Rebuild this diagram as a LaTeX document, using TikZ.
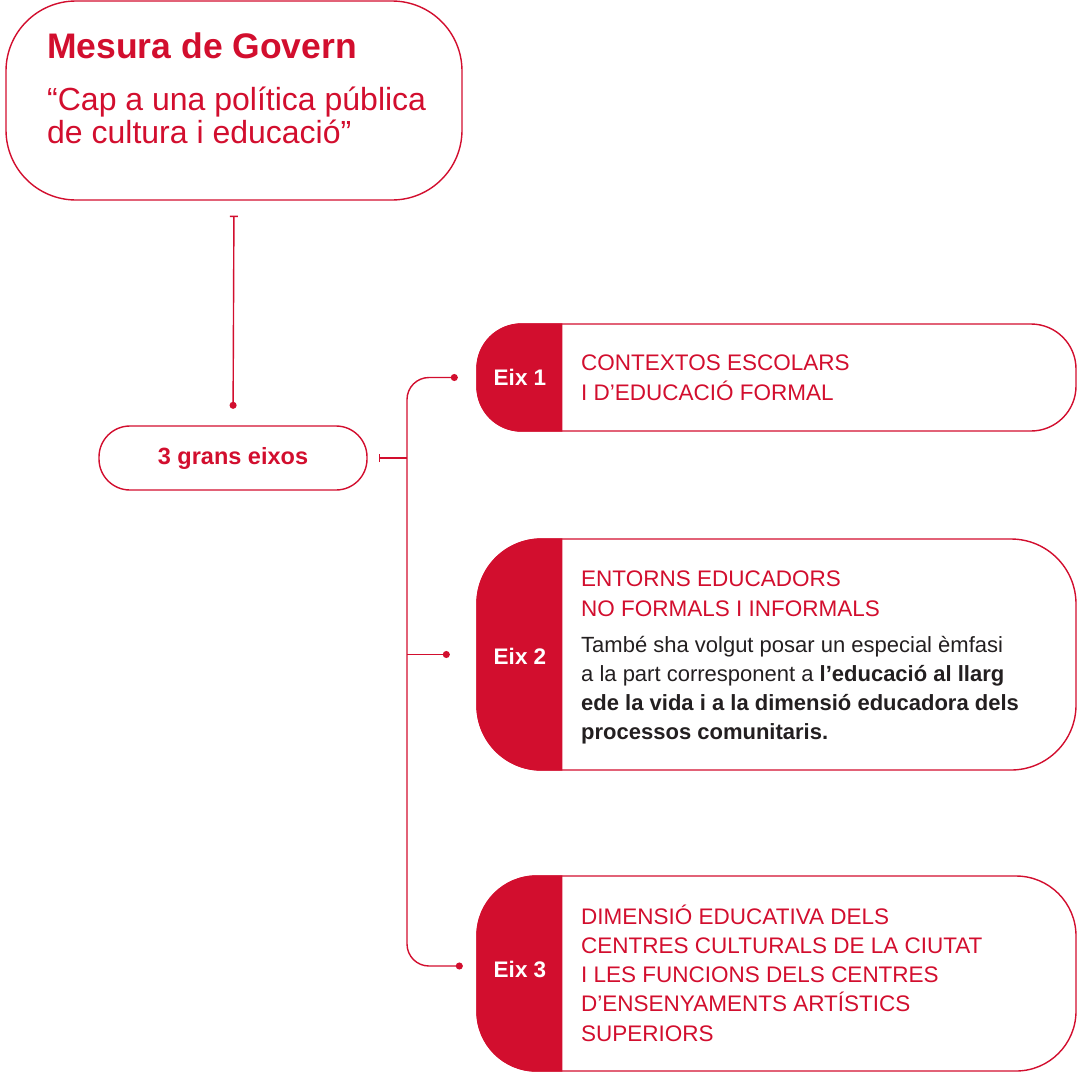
\documentclass[tikz,border=0pt]{standalone}
\usepackage{fontspec}
\setmainfont{Liberation Sans}
\usetikzlibrary{arrows.meta, positioning}
\definecolor{eixred}{RGB}{210,14,46}
\definecolor{bodytxt}{RGB}{35,31,32}
\tikzset{panel/.style={draw=eixred,line width=1.4pt},
  link/.style={draw=eixred,line width=1.4pt},
  dot/.tip={Circle[length=7pt]},
  tick/.tip={Bar[width=8pt,line width=1.4pt]},
  eixlabel/.style={text=white,font=\bfseries\fontsize{22.5}{27}\selectfont},
  capstxt/.style={anchor=base west,inner sep=0pt,align=left,text=eixred,font=\fontsize{22.5}{29.2}\selectfont},
  bodytext/.style={anchor=base west,inner sep=0pt,align=left,text=bodytxt,font=\fontsize{22}{29}\selectfont}}

\begin{document}
\begin{tikzpicture}[x=1pt, y=-1pt]
    \useasboundingbox (0,0) rectangle (1078,1074);
    % mesura de govern
    \node[panel, rounded corners=70, minimum width=456, minimum height=199](gov) at (234,100.5){};
    \node[anchor=base west, inner sep=0pt, text=eixred, font=\bfseries\fontsize{35.5}{40}\selectfont](gov-title) at (47,58){Mesura de Govern};
    % base = last line
    \node[anchor=base west, inner sep=0pt, align=left, text=eixred, font=\fontsize{32}{33}\selectfont](gov-quote) at (47,143){“Cap a una política pública\\de cultura i educació”};

    \node[panel, rounded corners=31, minimum width=268, minimum height=64, text=eixred, font=\bfseries\fontsize{23.5}{28}\selectfont](eixos) at (233,458){3 grans eixos};

    % els tres eixos
    \node[panel, rounded corners=45, minimum width=599, minimum height=107](eix-1) at (776.5,377.5){};
    \node[panel, rounded corners=65, minimum width=599, minimum height=231](eix-2) at (776.5,654.5){};
    \node[panel, rounded corners=60, minimum width=599, minimum height=195](eix-3) at (776.5,973.5){};
    \fill[eixred, rounded corners=45] ([xshift=86pt]eix-1.north west) -- (eix-1.north west) -- (eix-1.south west) -- ([xshift=86pt]eix-1.south west);
    \fill[eixred, rounded corners=65] ([xshift=86pt]eix-2.north west) -- (eix-2.north west) -- (eix-2.south west) -- ([xshift=86pt]eix-2.south west);
    \fill[eixred, rounded corners=60] ([xshift=86pt]eix-3.north west) -- (eix-3.north west) -- (eix-3.south west) -- ([xshift=86pt]eix-3.south west);
    \node[eixlabel](lab-1) at (520,377.5){Eix 1};
    \node[eixlabel](lab-2) at (520,656){Eix 2};
    \node[eixlabel](lab-3) at (520,969){Eix 3};

    \node[capstxt](txt-1) at (581,400){CONTEXTOS ESCOLARS\\I D’EDUCACIÓ FORMAL};
    \node[capstxt](txt-2) at (581,616){ENTORNS EDUCADORS\\NO FORMALS I INFORMALS};
    \node[bodytext](body-2) at (581,739){També sha volgut posar un especial èmfasi\\a la part corresponent a \textbf{l’educació al llarg}\\\textbf{ede la vida i a la dimensió educadora dels}\\\textbf{processos comunitaris.}};
    \node[capstxt](txt-3) at (581,1041){DIMENSIÓ EDUCATIVA DELS\\CENTRES CULTURALS DE LA CIUTAT\\I LES FUNCIONS DELS CENTRES\\D’ENSENYAMENTS ARTÍSTICS\\SUPERIORS};

    % connectors
    \coordinate (trunk) at (407,458);
    \draw[link, tick-dot, shorten <=15pt, shorten >=16.5pt] (gov.south) -- (eixos.north);
    \draw[link, tick-, shorten <=11pt] (eixos.east) -- (trunk);
    \draw[link, dot-dot, rounded corners=22, shorten <=18.5pt, shorten >=13.5pt] (eix-1.west) -| (trunk) |- ([yshift=7.5pt]eix-3.west);
    \draw[link, -dot, shorten >=26.5pt] (trunk |- eix-2.west) -- (eix-2.west);
\end{tikzpicture}
\end{document}
